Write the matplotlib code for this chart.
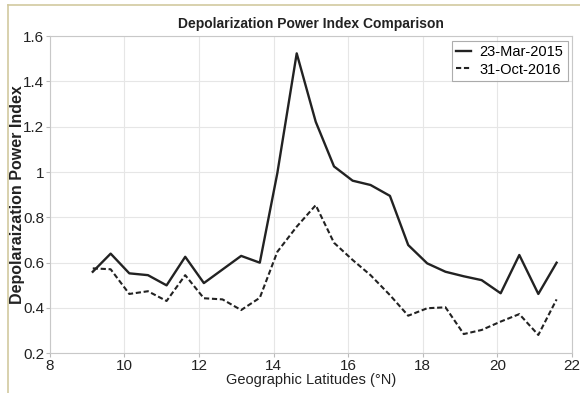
import matplotlib
matplotlib.use("Agg")
import matplotlib.pyplot as plt
from matplotlib.lines import Line2D

# latitude sample points (deg N)
latitudes = [9.15, 9.63, 10.13, 10.63, 11.13, 11.63, 12.13, 12.63, 13.13, 13.63,
             14.1, 14.62, 15.13, 15.62, 16.12, 16.6, 17.12, 17.61, 18.12, 18.61,
             19.1, 19.58, 20.09, 20.59, 21.1, 21.59]

# depolarization power index, 23-Mar-2015
dpi_2015 = [0.56, 0.64, 0.553, 0.545, 0.50, 0.626, 0.51, 0.57, 0.63, 0.60,
            0.995, 1.524, 1.222, 1.025, 0.962, 0.943, 0.895, 0.678, 0.597, 0.56,
            0.54, 0.523, 0.465, 0.634, 0.462, 0.60]

# depolarization power index, 31-Oct-2016
dpi_2016 = [0.575, 0.571, 0.462, 0.474, 0.431, 0.545, 0.443, 0.438, 0.391, 0.445,
            0.648, 0.759, 0.854, 0.688, 0.612, 0.545, 0.457, 0.366, 0.399, 0.403,
            0.285, 0.303, 0.34, 0.373, 0.281, 0.438]

xticks = [8, 10, 12, 14, 16, 18, 20, 22]
yticks = [0.2, 0.4, 0.6, 0.8, 1.0, 1.2, 1.4, 1.6]
ytick_labels = ['0.2', '0.4', '0.6', '0.8', '1', '1.2', '1.4', '1.6']

font = ['Liberation Sans', 'DejaVu Sans']

fig = plt.figure(figsize=(5.8, 3.93), dpi=100)
ax = fig.add_axes([0.086, 0.101, 0.9, 0.807])

ax.plot(latitudes, dpi_2015, color='#222222', lw=1.7, ls='-', label='23-Mar-2015')
ax.plot(latitudes, dpi_2016, color='#222222', lw=1.5, ls=(0, (2.5, 1.3)), label='31-Oct-2016')

ax.set_xlim(8, 22)
ax.set_ylim(0.2, 1.6)
ax.set_xticks(xticks)
ax.set_yticks(yticks)
ax.set_yticklabels(ytick_labels)
ax.grid(True, color='#e6e6e6', lw=0.8)

for lab in ax.get_xticklabels() + ax.get_yticklabels():
    lab.set_family(font)
    lab.set_fontsize(11)
    lab.set_color('#222222')
ax.tick_params(length=3, color='#bbbbbb', pad=1)
for sp in ax.spines.values():
    sp.set_color('#c8c8c8')

ax.set_title('Depolarization Power Index Comparison', family=font, fontsize=10,
             fontweight='bold', color='#222222', pad=6)
ax.set_xlabel('Geographic Latitudes (°N)', family=font, fontsize=10.5, color='#222222', labelpad=0)
ax.set_ylabel('Depolaraization Power Index', family=font,
              fontsize=11.5, fontweight='bold', color='#222222')
ax.yaxis.set_label_coords(-0.048, 0.5)

leg = ax.legend(loc='upper right', prop={'family': font, 'size': 10.5}, frameon=True,
                fancybox=False, edgecolor='#999999', handlelength=1.0, handletextpad=0.6,
                borderaxespad=0.3, borderpad=0.3, labelspacing=0.25)
leg.get_frame().set_linewidth(0.8)

# thin beige frame on the top and left of the picture
fig.add_artist(Line2D([0.014, 0.014], [0.0, 0.988], transform=fig.transFigure, color='#d2c9a0', lw=1.2))
fig.add_artist(Line2D([0.014, 1.0], [0.988, 0.988], transform=fig.transFigure, color='#d2c9a0', lw=1.2))

fig.savefig('out.png', dpi=100)
